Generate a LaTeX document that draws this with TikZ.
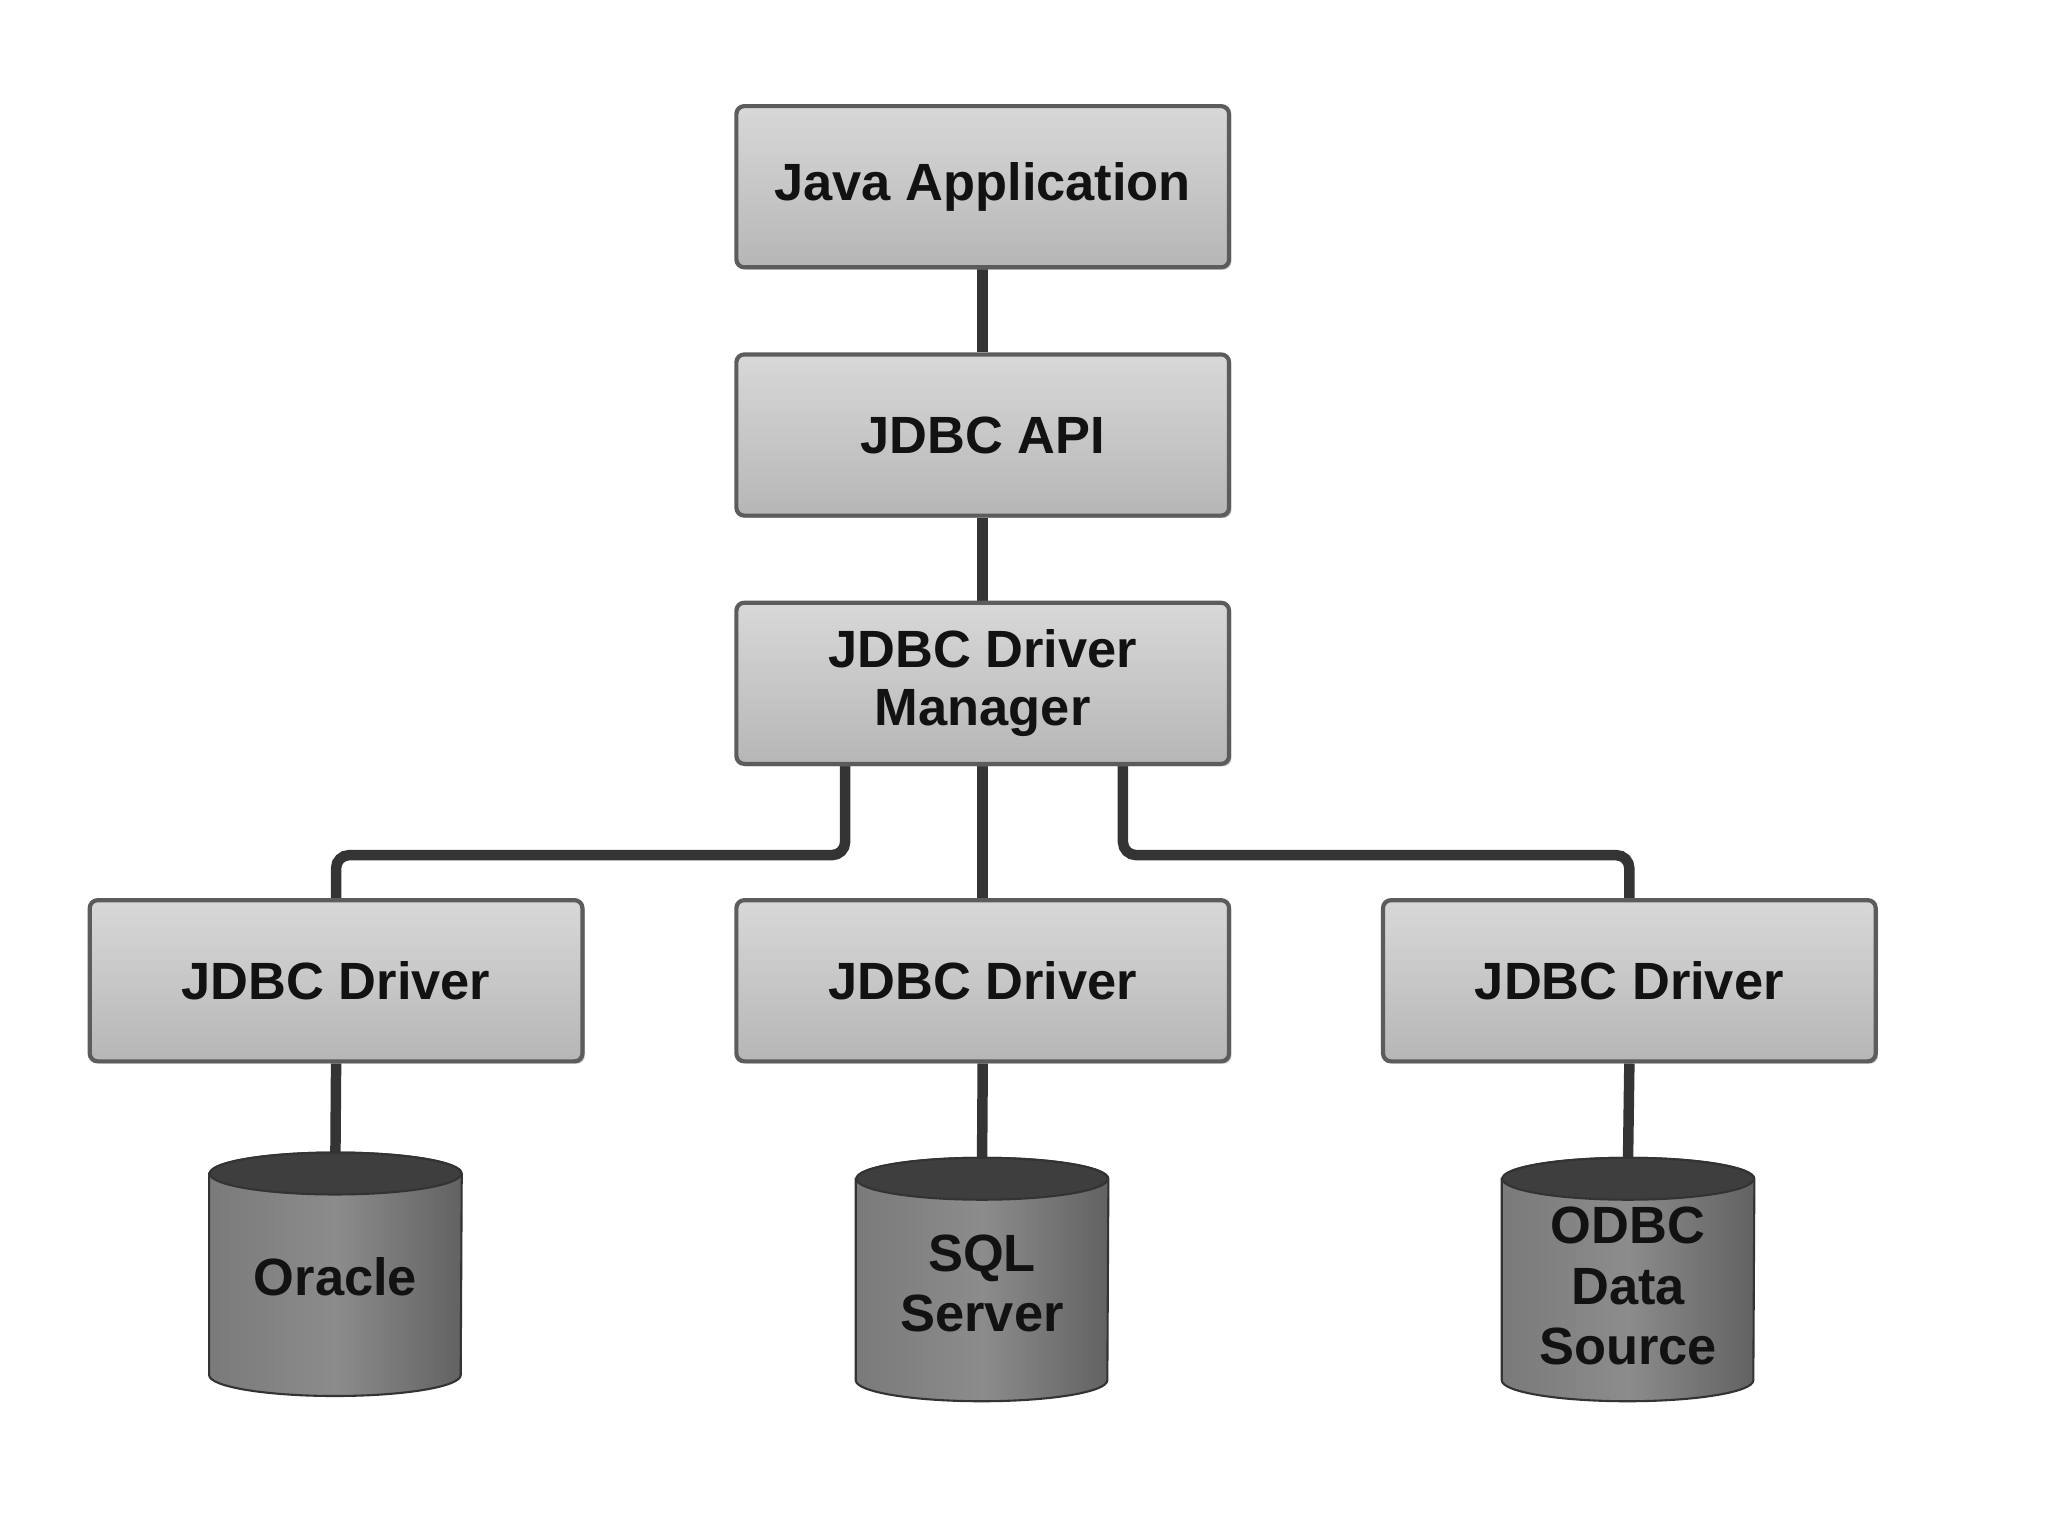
\documentclass[tikz,border=0pt]{standalone}
\usepackage{fontspec}
\setmainfont{Liberation Sans}
\usetikzlibrary{calc,backgrounds,shadows}
\definecolor{boxtop}{RGB}{216,216,216}
\definecolor{boxbot}{RGB}{182,182,182}
\definecolor{boxline}{RGB}{92,92,92}
\definecolor{connc}{RGB}{52,52,52}
\definecolor{cylleft}{RGB}{122,122,122}
\definecolor{cylmid}{RGB}{140,140,140}
\definecolor{cylright}{RGB}{98,98,98}
\definecolor{cyltopc}{RGB}{62,62,62}
\definecolor{txtc}{RGB}{18,18,18}
\tikzset{
  layerbox/.style={draw=boxline, line width=1.6pt, rounded corners=3pt,
    top color=boxtop, bottom color=boxbot,
    drop shadow={shadow xshift=0.9pt, shadow yshift=-0.9pt, fill=black!45},
    minimum width=188pt, minimum height=61.5pt, inner sep=0pt,
    align=center, text=txtc, font=\fontsize{20}{22}\selectfont\bfseries},
  cylnode/.style={minimum width=96pt, minimum height=92.5pt, inner sep=0pt,
    align=center, text=txtc, font=\fontsize{20}{23}\selectfont\bfseries},
  cylbody/.style={draw=black!80, line width=0.8pt, left color=cylleft, right color=cylright, middle color=cylmid},
  cyltop/.style={draw=black!80, line width=0.8pt, fill=cyltopc},
  conn/.style={draw=connc, line width=4pt, rounded corners=5pt}
}
\begin{document}
\begin{tikzpicture}[x=0.5pt,y=-0.5pt]
\useasboundingbox (0,0) rectangle (1563,1172);

\node[layerbox] (app) at (750,142.5) {Java Application};
\node[layerbox] (api) at (750,332) {JDBC API};
\node[layerbox] (mgr) at (750,521.5) {JDBC Driver\\Manager};
\node[layerbox] (drvL) at (256.5,748.5) {JDBC Driver};
\node[layerbox] (drvM) at (750,748.5) {JDBC Driver};
\node[layerbox] (drvR) at (1243.5,748.5) {JDBC Driver};

\node[cylnode] (ora) at (256,972.5) {\raisebox{-1pt}[\height][\depth]{Oracle}};
\node[cylnode] (sql) at (749.5,976.5) {\raisebox{-1.5pt}[\height][\depth]{\parbox{96pt}{\centering SQL\\Server}}};
\node[cylnode] (odbc) at (1242.5,976.5) {\raisebox{-2.5pt}[\height][\depth]{\parbox{96pt}{\centering ODBC\\Data\\Source}}};

\begin{pgfonlayer}{background}
  \draw[conn] (app.south) -- (api.north);
  \draw[conn] (api.south) -- (mgr.north);
  \draw[conn] (mgr.south) -- (drvM.north);
  \draw[conn] ([xshift=-52.5pt]mgr.south) -- ++(0,68) -| (drvL.north);
  \draw[conn] ([xshift=53.5pt]mgr.south) -- ++(0,68) -| (drvR.north);
  \draw[conn] (drvL.south) -- (ora.north);
  \draw[conn] (drvM.south) -- (sql.north);
  \draw[conn] (drvR.south) -- (odbc.north);
  \foreach \n in {ora,sql,odbc}{
    \path[cylbody] ($(\n.north west)+(0,16)$) -- ($(\n.south west)+(0,-16)$)
      arc[start angle=180,end angle=360,x radius=48pt,y radius=8pt]
      -- ($(\n.north east)+(0,16)$)
      arc[start angle=0,end angle=180,x radius=48pt,y radius=8pt] -- cycle;
    \path[cyltop] ($(\n.north)+(0,16)$) ellipse[x radius=48pt,y radius=8pt];
  }
\end{pgfonlayer}
\end{tikzpicture}
\end{document}
